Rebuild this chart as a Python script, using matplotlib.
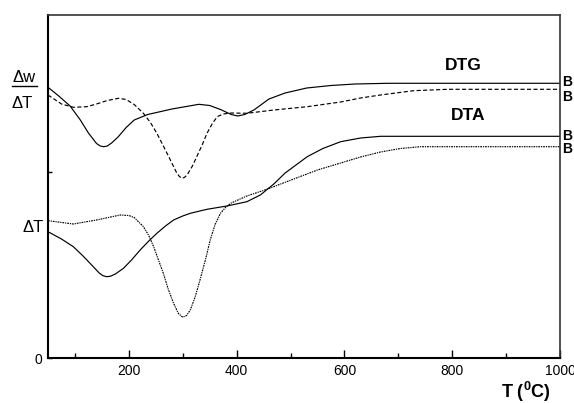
import matplotlib
matplotlib.use("Agg")
import matplotlib.pyplot as plt
from matplotlib.lines import Line2D
import numpy as np

plt.rcParams['font.family'] = ['Liberation Sans', 'DejaVu Sans']
plt.rcParams['mathtext.fontset'] = 'custom'
plt.rcParams['mathtext.rm'] = 'Liberation Sans'
plt.rcParams['mathtext.bf'] = 'Liberation Sans:bold'

# DTG, solid (arbitrary units)
dtg_a_T = [50, 70, 91, 110, 125, 140, 147, 153, 160, 168, 180, 195, 210, 235, 280, 330, 350,
           370, 390, 402, 415, 432, 460, 490, 530, 575, 620, 680, 1000]
dtg_a_v = [270.7, 262, 252, 238, 225, 214.5, 212, 211.3, 212, 215, 221, 230.5, 238, 243.5,
           249, 253.7, 252.5, 248.5, 243.5, 242, 243.5, 248, 259, 265, 270, 272.5, 274, 274.7,
           274.7]

# DTG, dashed
dtg_b_T = [50, 75, 97, 122, 140, 160, 181, 195, 210, 227, 240, 252, 265, 277, 288, 293, 298,
           303, 308, 318, 326, 336, 345, 355, 364, 375, 390, 419, 469, 531, 593, 630, 667, 728,
           792, 1000]
dtg_b_v = [263, 254, 250.7, 251.3, 254, 257.5, 259.7, 258.5, 253.5, 244.7, 235.5, 224.7,
           211, 198, 186, 182, 179.7, 180.5, 183, 192, 201.3, 213, 224.7, 234.5, 241.3, 244,
           245, 244.7, 248, 251.3, 256, 260, 263, 267.3, 268.7, 268.7]

# DTA, solid
dta_a_T = [50, 75, 97, 115, 128, 145, 152, 159, 166, 175, 190, 205, 221, 237, 252, 268, 283,
           300, 314, 345, 382, 419, 444, 469, 490, 531, 560, 593, 630, 667, 1000]
dta_a_v = [126.3, 119, 111.3, 102, 94.7, 85, 82.3, 81.3, 81.8, 84, 89.7, 98, 108, 117, 124.7,
           132, 138, 142, 144.7, 148.7, 152, 156.3, 163, 174, 185, 201.3, 209.5, 216.3, 220,
           221.7, 221.7]

# DTA, dotted
dta_b_T = [50, 97, 140, 184, 200, 210, 227, 237, 246, 255, 264, 273, 283, 292, 300, 307,
           314, 323, 332, 342, 351, 360, 370, 380, 390, 419, 456, 506, 550, 593, 630, 667,
           704, 741, 1000]
dta_b_v = [137.3, 134, 138, 143, 142.5, 140.5, 131.3, 122.5, 111.3, 98, 84.7, 69, 54.7, 44.5,
           40.7, 42.5, 48, 61, 78, 98, 118, 133.5, 144.7, 151, 155, 162, 168.7, 179, 188, 195,
           201, 206, 209.5, 211.3, 211.3]

xticks_major = [200, 400, 600, 800, 1000]
xticks_minor = [100, 300, 500, 700, 900]

fig = plt.figure(figsize=(5.74, 4.03), dpi=100)
ax = fig.add_axes([48/574, 45/403, 512/574, 343/403])

ax.plot(dtg_a_T, dtg_a_v, color='black', lw=0.85)
ax.plot(dtg_b_T, dtg_b_v, color='black', lw=0.85, dashes=(3.5, 2))
ax.plot(dta_a_T, dta_a_v, color='black', lw=0.85)
ax.plot(dta_b_T, dta_b_v, color='black', lw=0.85, dashes=(1.5, 0.8, 1, 0.8))

ax.set_xlim(50, 1000)
ax.set_ylim(0, 343)
ax.set_xticks(xticks_major)
ax.set_xticks(xticks_minor, minor=True)
ax.set_yticks([0, 186])
ax.set_yticklabels(['0', ''])
ax.tick_params(axis='both', which='major', direction='in', length=5.5, width=1, labelsize=10, pad=4)
ax.tick_params(axis='x', which='minor', direction='in', length=3.3, width=1)
ax.tick_params(axis='y', which='major', length=3)

for s in ['left', 'bottom']:
    ax.spines[s].set_linewidth(1.5)
for s in ['top', 'right']:
    ax.spines[s].set_linewidth(1.2)
    ax.spines[s].set_color('#333333')

ax.text(821, 292, 'DTG', fontsize=12.5, fontweight='bold', ha='center', va='center')
ax.text(829, 243, 'DTA', fontsize=12.5, fontweight='bold', ha='center', va='center')
for v in [276, 261, 222, 209]:
    ax.text(1004, v, 'B', fontsize=10, fontweight='bold', ha='left', va='center', clip_on=False)

W, H = 574, 403
fig.text(24.5/W, 1-77/H, '\u0394w', fontsize=12, ha='center', va='center')
fig.add_artist(Line2D([12/W, 37/W], [1-85.5/H, 1-85.5/H], color='black', lw=1))
fig.text(22.5/W, 1-103/H, '\u0394T', fontsize=12, ha='center', va='center')
fig.text(44/W, 1-227/H, '\u0394T', fontsize=12, ha='right', va='center')
fig.text(526/W, 1-392/H, r'T ($^\mathbf{0}$C)', fontsize=13, fontweight='bold', ha='center', va='center')

fig.savefig('out.png', dpi=100)
